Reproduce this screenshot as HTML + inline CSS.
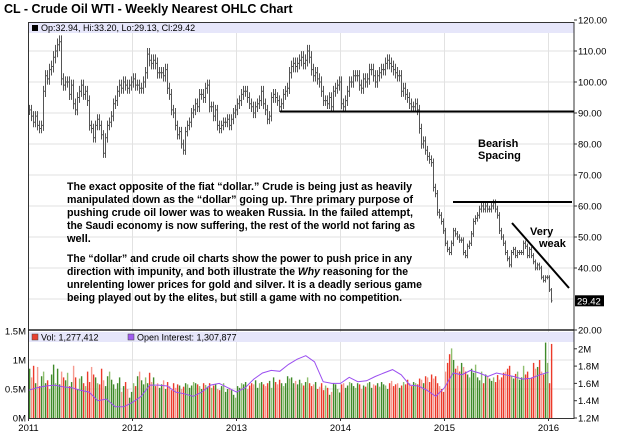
<!DOCTYPE html>
<html><head><meta charset="utf-8"><style>
body{margin:0;background:#fff;}
svg{display:block;font-family:"Liberation Sans",Arial,sans-serif;}
</style></head><body>
<svg id="c" width="620" height="435" viewBox="0 0 620 435">
<text x="4" y="13" font-size="12.5" font-weight="bold">CL - Crude Oil WTI - Weekly Nearest OHLC Chart</text>
<g id="grid"></g>
<rect x="29" y="23" width="545" height="10" fill="#e6e6fa"/>
<rect x="32" y="25" width="6" height="6" fill="#000"/>
<text x="41" y="31" font-size="9">Op:32.94, Hi:33.20, Lo:29.13, Cl:29.42</text>
<g id="bars"></g>
<g id="vol"></g>
<polyline id="oi" fill="none" stroke="#9b4ff0" stroke-width="1"/>
<rect x="29" y="332" width="545" height="10" fill="#e6e6fa"/>
<rect x="32" y="334" width="6" height="6" fill="#e8402f" stroke="#444" stroke-width="0.5"/>
<text x="41" y="340.5" font-size="9">Vol: 1,277,412</text>
<rect x="128" y="334" width="6" height="6" fill="#a05cf0" stroke="#444" stroke-width="0.5"/>
<text x="137" y="340.5" font-size="9">Open Interest: 1,307,877</text>
<rect x="28.5" y="22.5" width="545.5" height="396" fill="none" stroke="#333" stroke-width="1"/>
<line x1="28" y1="330" x2="574" y2="330" stroke="#222" stroke-width="1.5"/>
<g id="axes" font-size="9.5"></g>
<line x1="280" y1="111.5" x2="574" y2="111.5" stroke="#000" stroke-width="2"/>
<line x1="453" y1="202" x2="572" y2="202" stroke="#000" stroke-width="2"/>
<line x1="512" y1="223" x2="569" y2="288" stroke="#000" stroke-width="2"/>
<g font-size="11" font-weight="bold" style="white-space:pre">
<text x="478" y="147">Bearish</text>
<text x="478" y="159">Spacing</text>
<text x="530" y="235">Very</text>
<text x="539" y="247">weak</text>
<g>
<text x="67" y="190" textLength="345" lengthAdjust="spacingAndGlyphs">The exact opposite of the fiat “dollar.”  Crude is being just as heavily</text>
<text x="67" y="203" textLength="346" lengthAdjust="spacingAndGlyphs">manipulated down as the “dollar” going up.  Thre primary purpose of</text>
<text x="67" y="216" textLength="346" lengthAdjust="spacingAndGlyphs">pushing crude oil lower was to weaken Russia.  In the failed attempt,</text>
<text x="67" y="229" textLength="348" lengthAdjust="spacingAndGlyphs">the Saudi economy is now suffering, the rest of the world not faring as</text>
<text x="67" y="242">well.</text>
<text x="67" y="262" textLength="345" lengthAdjust="spacingAndGlyphs">The “dollar” and crude oil charts show the power to push price in any</text>
<text x="67" y="275" textLength="341" lengthAdjust="spacingAndGlyphs">direction with impunity, and both illustrate the <tspan font-style="italic">Why</tspan> reasoning for the</text>
<text x="67" y="288" textLength="355" lengthAdjust="spacingAndGlyphs">unrelenting lower prices for gold and silver.  It is a deadly serious game</text>
<text x="67" y="301" textLength="335" lengthAdjust="spacingAndGlyphs">being played out by the elites, but still a game with no competition.</text>
</g></g>
</svg>
<script>
const priceTicks=[20,30,40,50,60,70,80,90,100,110,120];
const yearLabels=["2011","2012","2013","2014","2015","2016"];
const volTicks=[0,0.5,1,1.5];
const volTickLabels=["0M","0.5M","1M","1.5M"];
const oiTicks=[1.2,1.4,1.6,1.8,2.0];
const oiTickLabels=["1.2M","1.4M","1.6M","1.8M","2M"];
const closes=[
91,89,87,89,86,85,86,97,102,101,104,105,108,110,112,113,101,99,100,100,96,99,93,91,95,97,99,96,97,94,86,85,82,86,88,86,83,77,82,86,87,89,93,94,97,99,98,100,99,98,99,100,
101,99,99,98,98,100,103,109,107,106,107,106,103,103,103,102,104,98,96,91,90,86,83,84,80,78,84,86,87,90,91,93,92,96,96,95,98,99,92,92,89,91,86,85,86,87,87,88,86,88,90,91,
93,94,96,97,97,95,93,92,90,92,93,94,97,93,91,88,89,95,96,95,94,92,93,96,97,98,103,105,106,105,106,107,108,106,107,110,108,104,102,103,101,100,97,94,94,93,95,92,97,98,99,100,
93,92,94,97,100,100,102,102,102,99,98,101,100,101,104,104,102,100,102,103,104,104,106,107,106,105,104,103,102,102,97,98,96,95,93,92,92,93,91,85,80,81,78,76,75,74,66,64,58,57,55,52,
48,46,45,48,52,51,50,49,49,45,44,47,48,51,55,56,57,59,60,59,60,59,59,60,61,59,57,52,50,48,45,43,41,45,46,44,45,45,45,48,47,44,46,44,42,40,41,40,37,36,37,37,
32.94,29.42];
const volumes=[
0.85,0.70,0.90,0.60,0.88,0.55,0.72,0.80,0.60,0.65,0.50,0.75,0.92,0.60,0.85,0.58,0.80,0.70,0.65,0.78,0.55,0.62,0.90,0.70,0.50,0.68,0.72,0.60,0.55,0.80,0.62,0.88,0.75,0.70,0.60,0.58,0.85,0.65,0.55,0.72,0.80,0.66,0.58,0.50,0.60,0.70,0.45,0.55,0.62,0.50,0.35,0.45,
0.60,0.55,0.72,0.80,0.65,0.58,0.70,0.60,0.78,0.62,0.70,0.55,0.60,0.52,0.58,0.65,0.50,0.62,0.55,0.48,0.60,0.52,0.58,0.56,0.50,0.54,0.60,0.58,0.52,0.56,0.62,0.60,0.58,0.55,0.50,0.60,0.57,0.54,0.60,0.52,0.56,0.58,0.50,0.48,0.55,0.60,0.45,0.50,0.52,0.48,0.40,0.35,
0.55,0.52,0.60,0.58,0.62,0.50,0.56,0.60,0.58,0.65,0.52,0.60,0.62,0.58,0.55,0.60,0.64,0.52,0.70,0.62,0.58,0.66,0.60,0.55,0.60,0.72,0.68,0.70,0.60,0.64,0.58,0.66,0.60,0.56,0.62,0.70,0.60,0.55,0.58,0.62,0.50,0.54,0.60,0.48,0.56,0.52,0.40,0.45,0.60,0.58,0.50,0.44,
0.58,0.60,0.52,0.56,0.62,0.60,0.55,0.52,0.60,0.58,0.50,0.56,0.54,0.60,0.62,0.52,0.58,0.56,0.60,0.54,0.62,0.58,0.56,0.50,0.60,0.64,0.55,0.58,0.60,0.52,0.56,0.62,0.58,0.66,0.60,0.55,0.62,0.60,0.58,0.68,0.66,0.60,0.72,0.70,0.62,0.75,0.68,0.72,0.60,0.55,0.50,0.45,
0.80,0.95,1.10,1.20,1.00,0.85,0.90,0.80,0.95,0.88,0.80,0.75,0.70,0.85,0.78,0.92,0.70,0.65,0.80,0.60,0.75,0.72,0.68,0.64,0.70,0.62,0.74,0.66,0.70,0.78,0.80,0.85,0.90,0.72,0.68,0.76,0.80,0.66,0.70,0.90,0.75,0.80,0.68,0.70,0.95,0.85,0.88,1.00,0.80,0.75,1.30,0.95,
0.60,1.277];
const openInterest=[1.52,1.55,1.57,1.58,1.56,1.55,1.52,1.50,1.40,1.42,1.33,1.33,
1.38,1.45,1.58,1.58,1.57,1.50,1.48,1.45,1.50,1.58,1.60,1.55,
1.50,1.55,1.65,1.72,1.75,1.74,1.82,1.88,1.92,1.85,1.62,1.60,
1.60,1.67,1.62,1.63,1.68,1.72,1.76,1.70,1.58,1.57,1.52,1.45,
1.55,1.72,1.70,1.75,1.72,1.68,1.72,1.70,1.68,1.65,1.66,1.70,1.73];
const X0=28.5,WEEK=2.0,YEARPX=104;
const yP=p=>330-(p-20)*3.1;
const yV=v=>418-v*58;
const yO=o=>418-(o-1.2)*86.5;
const xW=i=>X0+1+i*WEEK;
const NS="http://www.w3.org/2000/svg";
function mk(t,a,parent){const e=document.createElementNS(NS,t);for(const k in a)e.setAttribute(k,a[k]);parent.appendChild(e);return e;}
const grid=document.getElementById('grid'),axes=document.getElementById('axes');
priceTicks.forEach(p=>{
  if(p>20&&p<120){const l=mk('line',{x1:29,x2:574,y1:yP(p),y2:yP(p),stroke:'#e2e2e2'},grid);
  
  }
  if(p===30)return;
  const t=mk('text',{x:578,y:yP(p)+3.5},axes);t.textContent=p.toFixed(2);
  
  
  mk('line',{x1:574,x2:577,y1:yP(p),y2:yP(p),stroke:'#333'},axes);
});
yearLabels.forEach((y,i)=>{
  const x=X0+i*YEARPX;
  if(i>0){const l=mk('line',{x1:x,x2:x,y1:33,y2:418,stroke:'#e2e2e2'},grid);
  
  }
  const t=mk('text',{x:x,y:431,'text-anchor':'middle'},axes);t.textContent=y;
  
  
  mk('line',{x1:x,x2:x,y1:418,y2:421,stroke:'#333'},axes);
});
volTicks.forEach((v,i)=>{
  if(v>0&&v<1.5){const l=mk('line',{x1:29,x2:574,y1:yV(v),y2:yV(v),stroke:'#e2e2e2'},grid);
  
  }
  const t=mk('text',{x:26,y:yV(v)+3.5,'text-anchor':'end'},axes);t.textContent=volTickLabels[i];
  
  
});
oiTicks.forEach((o,i)=>{
  const t=mk('text',{x:578,y:yO(o)+3.5},axes);t.textContent=oiTickLabels[i];
  
  
  mk('line',{x1:574,x2:577,y1:yO(o),y2:yO(o),stroke:'#333'},axes);
});
const last=closes[closes.length-1];
const tag=mk('rect',{x:575,y:yP(last)-5.5,width:29,height:11,fill:'#000'},axes);


const tt=mk('text',{x:577,y:yP(last)+3.5,fill:'#fff'},axes);tt.textContent=last.toFixed(2);


const bars=document.getElementById('bars');
closes.forEach((c,i)=>{
  const o=i>0?closes[i-1]:c;
  const pad=Math.max(o,c)*0.018;
  const hi=Math.max(o,c)+pad, lo=Math.min(o,c)-pad;
  const x=xW(i);
  const g=mk('g',{stroke:'#555','stroke-width':1},bars);
  
  
  mk('line',{x1:x,x2:x,y1:yP(hi),y2:yP(lo)},g);
  mk('line',{x1:x-1,x2:x,y1:yP(o),y2:yP(o)},g);
  mk('line',{x1:x,x2:x+1,y1:yP(c),y2:yP(c)},g);
});
const vg=document.getElementById('vol');
volumes.forEach((v,i)=>{
  const up=i>0?closes[i]>=closes[i-1]:true;
  const light=i%3===1;
  const col=up?(light?'#8fbf6f':'#3f8a2a'):(light?'#f59a8f':'#ec3a2a');
  const r=mk('rect',{x:xW(i)-0.6,y:yV(v),width:1.4,height:418-yV(v),fill:col},vg);
  
  
});
const pts=openInterest.map((o,i)=>(X0+i*(YEARPX/12)).toFixed(1)+','+yO(o).toFixed(1)).join(' ');
document.getElementById('oi').setAttribute('points',pts);
</script>
</body></html>
